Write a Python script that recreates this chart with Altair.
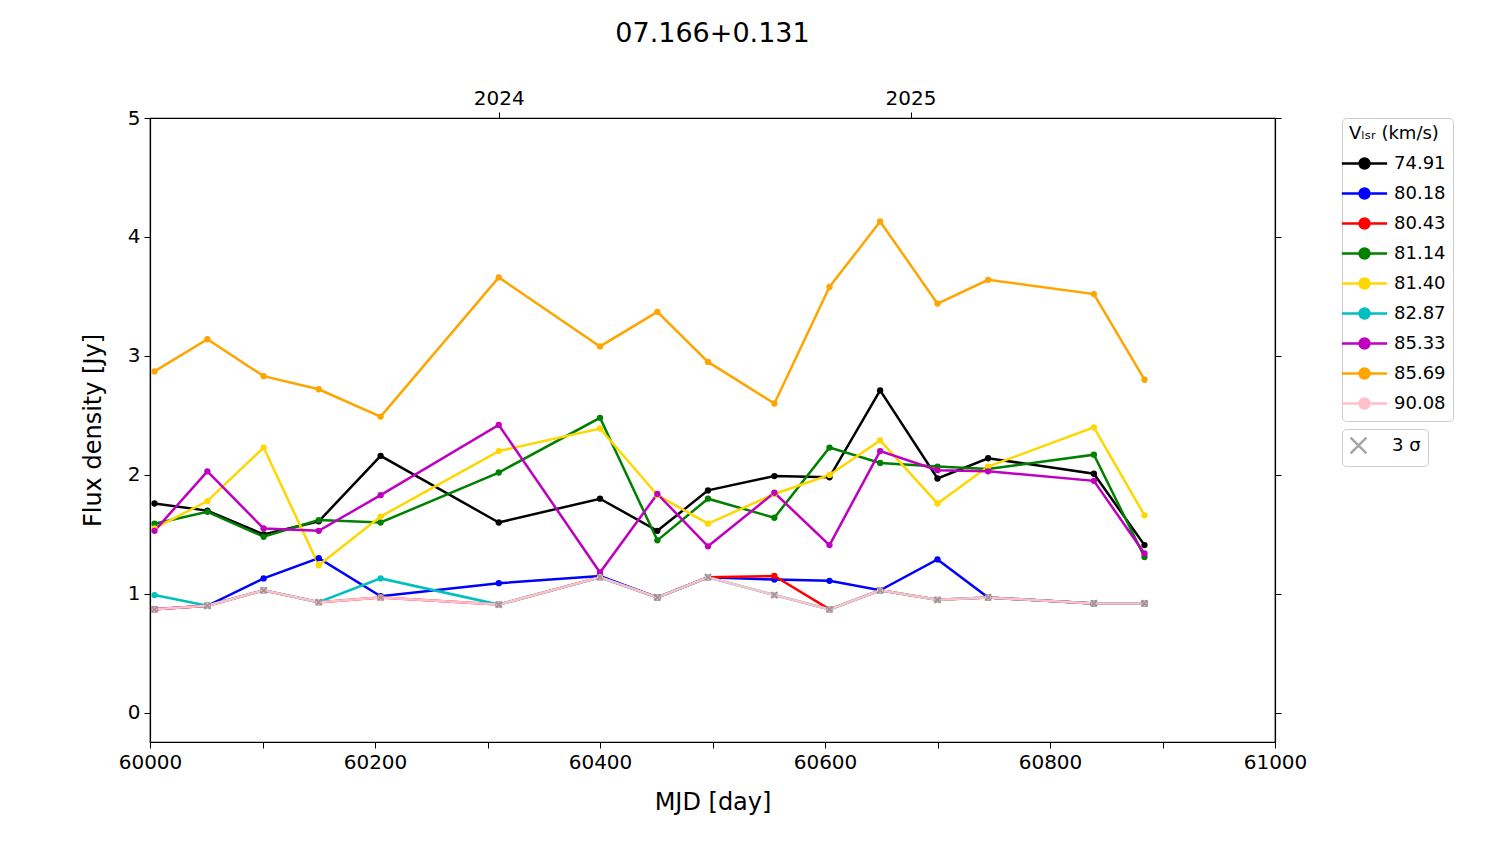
import pandas as pd
import altair as alt

mjd = [60004, 60051, 60101, 60150, 60205, 60310, 60400, 60451, 60496, 60555,
       60604, 60649, 60700, 60745, 60839, 60884]
sigma3 = [0.87, 0.90, 1.03, 0.93, 0.97, 0.91, 1.14, 0.97, 1.14, 0.99,
          0.87, 1.03, 0.95, 0.97, 0.92, 0.92]

velocities = ["74.91", "80.18", "80.43", "81.14", "81.40", "82.87", "85.33", "85.69", "90.08"]
colors = ["black", "blue", "red", "green", "gold", "#00bfbf", "#bf00bf", "orange", "pink"]

flux = {
    "74.91": [1.76, 1.70, 1.50, 1.61, 2.16, 1.60, 1.80, 1.53, 1.87, 1.99, 1.98, 2.71, 1.97, 2.14, 2.01, 1.41],
    "80.18": [0.87, 0.90, 1.13, 1.30, 0.98, 1.09, 1.15, 0.97, 1.14, 1.12, 1.11, 1.03, 1.29, 0.97, 0.92, 0.92],
    "80.43": [0.87, 0.90, 1.03, 0.93, 0.97, 0.91, 1.14, 0.97, 1.14, 1.15, 0.87, 1.03, 0.95, 0.97, 0.92, 0.92],
    "81.14": [1.59, 1.69, 1.48, 1.62, 1.60, 2.02, 2.48, 1.45, 1.80, 1.64, 2.23, 2.10, 2.07, 2.05, 2.17, 1.31],
    "81.40": [1.55, 1.78, 2.23, 1.24, 1.65, 2.20, 2.39, 1.83, 1.59, 1.84, 2.00, 2.29, 1.76, 2.07, 2.40, 1.66],
    "82.87": [0.99, 0.90, 1.03, 0.93, 1.13, 0.91, 1.14, 0.97, 1.14, 0.99, 0.87, 1.03, 0.95, 0.97, 0.92, 0.92],
    "85.33": [1.53, 2.03, 1.55, 1.53, 1.83, 2.42, 1.18, 1.84, 1.40, 1.85, 1.41, 2.20, 2.04, 2.03, 1.95, 1.34],
    "85.69": [2.87, 3.14, 2.83, 2.72, 2.49, 3.66, 3.08, 3.37, 2.95, 2.60, 3.58, 4.13, 3.44, 3.64, 3.52, 2.80],
    "90.08": [0.87, 0.90, 1.03, 0.93, 0.97, 0.91, 1.14, 0.97, 1.14, 0.99, 0.87, 1.03, 0.95, 0.97, 0.92, 0.92],
}

year_ticks = [60310, 60676]
year_labels = ["2024", "2025"]

rows = []
for i, v in enumerate(velocities):
    for m, f in zip(mjd, flux[v]):
        rows.append({"v": v, "order": i, "mjd": m, "flux": f})
df = pd.DataFrame(rows)
sig = pd.DataFrame({"mjd": mjd, "flux": sigma3, "kind": ["3 σ"] * len(mjd)})
years = pd.DataFrame({"mjd": year_ticks, "lab": year_labels, "flux": [0, 0]})

FONT = "DejaVu Sans"
XSHAPE = "M-1,-1L1,1M-1,1L1,-1"
xscale = alt.Scale(domain=[60000, 61000], nice=False, zero=False)
yscale = alt.Scale(domain=[-0.245, 5], nice=False)

xaxis = alt.Axis(title="MJD [day]", values=list(range(60000, 61001, 100)),
                 labelExpr="datum.value % 200 == 0 ? datum.value : ''", format="d",
                 tickSize=6, grid=False, labelFontSize=20, titleFontSize=24,
                 titlePadding=18, titleFontWeight="normal", labelFlush=False)
yaxis = alt.Axis(title="Flux density [Jy]", values=[0, 1, 2, 3, 4, 5], format="d",
                 tickSize=6, grid=False, labelFontSize=20, titleFontSize=24,
                 titlePadding=22, titleFontWeight="normal", labelFlush=False)

sym = "M-1.6,0L-0.35,0M0.35,0L1.6,0M-0.35,0A0.35,0.35 0 1,1 0.35,0A0.35,0.35 0 1,1 -0.35,0Z"

lines = alt.Chart(df).mark_line(strokeWidth=2.5, point=alt.OverlayMarkDef(size=40, filled=True)).encode(
    x=alt.X("mjd:Q", scale=xscale, axis=xaxis),
    y=alt.Y("flux:Q", scale=yscale, axis=yaxis),
    color=alt.Color("v:N", scale=alt.Scale(domain=velocities, range=colors),
                    legend=alt.Legend(title="Vₗₛᵣ (km/s)", symbolType=sym, symbolSize=800,
                                      symbolStrokeWidth=2.5, labelFontSize=18, titleFontSize=18,
                                      titleFontWeight="normal", rowPadding=4, labelOffset=14,
                                      offset=60, strokeColor="#cccccc", padding=7,
                                      cornerRadius=4, orient="right")),
    order="order:Q",
    detail="v:N",
)

crosses = alt.Chart(sig).mark_point(size=40, strokeWidth=2, filled=False).encode(
    x=alt.X("mjd:Q", scale=xscale, axis=None),
    y=alt.Y("flux:Q", scale=yscale, axis=None),
    shape=alt.Shape("kind:N", scale=alt.Scale(range=[XSHAPE]),
                    legend=alt.Legend(title=None, symbolSize=250, symbolStrokeColor="gray",
                                      symbolStrokeWidth=2.5, labelFontSize=18, labelOffset=24,
                                      offset=60, strokeColor="#cccccc", padding=7,
                                      cornerRadius=4, orient="right")),
    color=alt.value("gray"),
)

top = alt.Chart(years).mark_point(opacity=0).encode(
    x=alt.X("mjd:Q", scale=xscale,
            axis=alt.Axis(orient="top", title=None, values=year_ticks,
                          labelExpr="datum.value < 60500 ? '2024' : '2025'",
                          tickSize=6, labelFontSize=20, grid=False)),
    y=alt.Y("flux:Q", scale=yscale,
            axis=alt.Axis(orient="right", values=[0, 1, 2, 3, 4, 5], labels=False,
                          title=None, tickSize=6, grid=False)),
)

chart = alt.layer(lines, crosses, top).resolve_axis(
    x="independent", y="independent"
).resolve_legend(color="independent", shape="independent").properties(
    width=1125, height=624,
    title=alt.Title("07.166+0.131", fontSize=27, fontWeight="normal", offset=40),
    autosize=alt.AutoSizeParams(type="none"),
    padding={"left": 142, "top": 110, "right": 210, "bottom": 90},
).configure(font=FONT).configure_axis(
    domainColor="black", tickColor="black", labelColor="black", titleColor="black",
    labelPadding=4, domainWidth=1.2,
).configure_legend(labelFont=FONT, titleFont=FONT).configure_view(stroke="black", strokeWidth=1.2)

chart.save("out.html", embed_options={"renderer": "svg", "actions": False})
